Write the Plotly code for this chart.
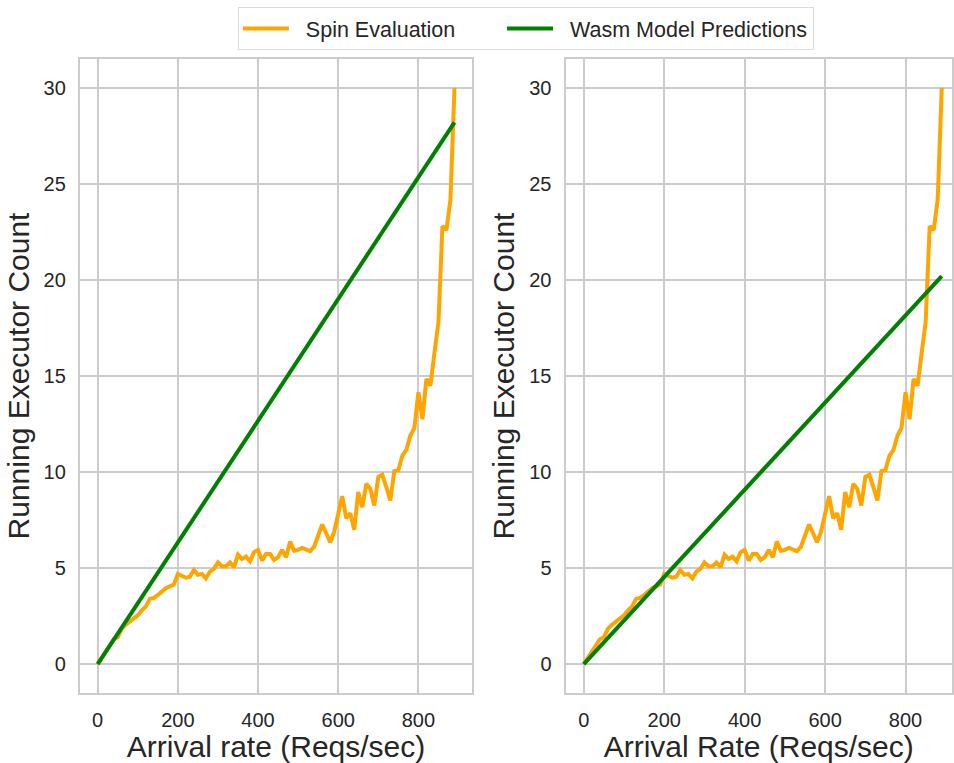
import plotly.graph_objects as go

# Arrival rates (Reqs/sec)
arrival_rate = [0, 10, 20, 30, 40, 50, 60, 70, 80, 90,
                100, 110, 120, 130, 140, 150, 160, 170, 180, 190,
                200, 210, 220, 230, 240, 250, 260, 270, 280, 290,
                300, 310, 320, 330, 340, 350, 360, 370, 380, 390,
                400, 410, 420, 430, 440, 450, 460, 470, 480, 490,
                500, 510, 520, 530, 540, 550, 560, 570, 580, 590,
                600, 610, 620, 630, 640, 650, 660, 670, 680, 690,
                700, 710, 720, 730, 740, 750, 760, 770, 780, 790,
                800, 810, 820, 830, 840, 850, 860, 870, 880, 890]

# Spin Evaluation: running executor count
spin_eval = [0.0, 0.35, 0.7, 1.05, 1.3, 1.4, 1.85, 2.05, 2.2, 2.4,
             2.55, 2.8, 3.0, 3.4, 3.45, 3.6, 3.8, 3.95, 4.05, 4.15,
             4.7, 4.6, 4.5, 4.55, 4.9, 4.65, 4.7, 4.47, 4.82, 4.96,
             5.3, 5.1, 5.1, 5.3, 5.04, 5.7, 5.48, 5.6, 5.36, 5.83,
             5.95, 5.39, 5.74, 5.74, 5.43, 5.57, 5.95, 5.57, 6.38, 5.91,
             5.95, 6.05, 5.97, 5.88, 6.12, 6.78, 7.27, 6.83, 6.35, 6.9,
             7.83, 8.75, 7.6, 7.86, 6.99, 8.96, 8.17, 9.39, 9.13, 8.26,
             9.74, 9.86, 9.22, 8.52, 10.05, 10.1, 10.85, 11.15, 11.9, 12.3,
             14.15, 12.75, 14.85, 14.5, 16.2, 17.8, 22.8, 22.6, 24.2, 30.0]

# Wasm model predictions (linear), endpoints
model_x = [0, 890]
model_left = [0.0, 28.2]
model_right = [0.0, 20.2]

x_ticks = [0, 200, 400, 600, 800]
y_ticks = [0, 5, 10, 15, 20, 25, 30]

ORANGE = "#ffa500"
GREEN = "#008000"
FONT = "Liberation Sans, Arial, sans-serif"
TXT = "#262626"
GRID = "#cccccc"
SP = "\u00a0\u00a0"
TAIL = "\u00a0" * 7

fig = go.Figure()

fig.add_trace(go.Scatter(x=arrival_rate, y=spin_eval, mode="lines",
                         line=dict(color=ORANGE, width=4),
                         name=SP + "Spin Evaluation" + TAIL, xaxis="x", yaxis="y",
                         legendgroup="spin"))
fig.add_trace(go.Scatter(x=model_x, y=model_left, mode="lines",
                         line=dict(color=GREEN, width=4),
                         name=SP + "Wasm Model Predictions", xaxis="x", yaxis="y",
                         legendgroup="wasm"))
fig.add_trace(go.Scatter(x=arrival_rate, y=spin_eval, mode="lines",
                         line=dict(color=ORANGE, width=4),
                         name="Spin Evaluation", xaxis="x2", yaxis="y2",
                         showlegend=False, legendgroup="spin"))
fig.add_trace(go.Scatter(x=model_x, y=model_right, mode="lines",
                         line=dict(color=GREEN, width=4),
                         name="Wasm Model Predictions", xaxis="x2", yaxis="y2",
                         showlegend=False, legendgroup="wasm"))

W, H = 954, 763
ydom = [(H - 693) / H, (H - 59) / H]

common_x = dict(tickvals=x_ticks, showgrid=True, gridcolor=GRID, gridwidth=1.5,
                zeroline=False, showline=True, linecolor=GRID, linewidth=2,
                mirror=True, ticks="", ticklabelstandoff=8,
                tickfont=dict(family=FONT, size=20, color=TXT),
                title_font=dict(family=FONT, size=30, color=TXT))
common_y = dict(tickvals=y_ticks, range=[-1.5, 31.5], showgrid=True,
                gridcolor=GRID, gridwidth=1.5, zeroline=False, showline=True,
                linecolor=GRID, linewidth=2, mirror=True, ticks="",
                ticklabelstandoff=8,
                tickfont=dict(family=FONT, size=20, color=TXT),
                title_font=dict(family=FONT, size=30, color=TXT))

fig.update_layout(
    width=W, height=H,
    margin=dict(l=0, r=0, t=0, b=0),
    paper_bgcolor="white", plot_bgcolor="white",
    font=dict(family=FONT, color=TXT),
    xaxis=dict(domain=[80 / W, 473.3 / W], range=[-44.5, 934.5],
               anchor="y", title=dict(text="Arrival rate (Reqs/sec)", standoff=9),
               **common_x),
    yaxis=dict(domain=ydom, anchor="x",
               title=dict(text="Running Executor Count", standoff=5),
               **common_y),
    xaxis2=dict(domain=[566.7 / W, 1.0], range=[-45.4, 915.5],
                anchor="y2", title=dict(text="Arrival Rate (Reqs/sec)", standoff=9),
                **common_x),
    yaxis2=dict(domain=ydom, anchor="x2",
                title=dict(text="Running Executor Count", standoff=6),
                **common_y),
    legend=dict(orientation="h", x=527 / W, xanchor="center",
                y=1 - 7 / H, yanchor="top",
                bordercolor="#dcdcdc", borderwidth=1, bgcolor="white",
                font=dict(family=FONT, size=21.5, color=TXT),
                itemwidth=46),
    showlegend=True,
)

fig.write_html("out.html")
